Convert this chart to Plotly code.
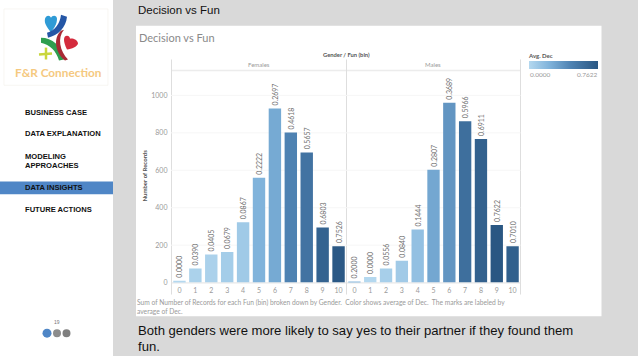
import plotly.graph_objects as go

fun_bins = list(range(11))
female_records = [10, 75, 150, 163, 323, 560, 930, 802, 696, 295, 195]
male_records = [5, 30, 75, 117, 284, 603, 961, 862, 767, 308, 195]
female_dec = [0.0000, 0.0390, 0.0405, 0.0679, 0.0867, 0.2222, 0.2697, 0.4618, 0.5657, 0.6803, 0.7526]
male_dec = [0.2000, 0.0000, 0.0556, 0.0840, 0.1444, 0.2807, 0.3689, 0.5966, 0.6911, 0.7622, 0.7010]
y_ticks = [0, 200, 400, 600, 800, 1000]
menu = [("BUSINESS CASE", 113), ("DATA EXPLANATION", 135), ("MODELING", 158), ("APPROACHES", 167),
        ("DATA INSIGHTS", 189), ("FUTURE ACTIONS", 211)]

W, H = 638, 359
X = lambda p: p / W
Y = lambda p: 1 - p / H
GREY = "#d9d9d9"
TICK = "#9a9a9a"
FONT = "Lato, 'Open Sans', sans-serif"
SANS = "'Liberation Sans', Arial, sans-serif"
scale = [[0, "#b4d8ef"], [0.3, "#7fb2da"], [0.6, "#4f83b3"], [1, "#2a5783"]]

def bars(vals, dec, xa, ya):
    return go.Bar(x=fun_bins, y=vals, xaxis=xa, yaxis=ya, width=0.78,
                  marker=dict(color=dec, coloraxis="coloraxis", line_width=0),
                  text=[f"{d:.4f}" for d in dec], textposition="outside", textangle=-90,
                  textfont=dict(family=FONT, size=7, color="#6f6f6f"),
                  cliponaxis=False, constraintext="none", showlegend=False, hoverinfo="skip")

fig = go.Figure([bars(female_records, female_dec, "x", "y"), bars(male_records, male_dec, "x2", "y2")])

def rect(x0, y0, x1, y1, color, layer="below", line=None):
    return dict(type="rect", xref="paper", yref="paper", x0=X(x0), x1=X(x1), y0=Y(y0), y1=Y(y1),
                fillcolor=color, line=dict(width=0.6 if line else 0, color=line or color), layer=layer)

def vline(x, y0, y1, color="#dedede", w=1):
    return dict(type="line", xref="paper", yref="paper", x0=X(x), x1=X(x), y0=Y(y0), y1=Y(y1),
                line=dict(color=color, width=w), layer="below")

def hline(y, x0, x1, color="#e8e8e8", w=1):
    return dict(type="line", xref="paper", yref="paper", x0=X(x0), x1=X(x1), y0=Y(y), y1=Y(y),
                line=dict(color=color, width=w), layer="below")

def circle(cx, cy, r, color):
    return dict(type="circle", xref="paper", yref="paper", x0=X(cx - r), x1=X(cx + r), y0=Y(cy - r), y1=Y(cy + r),
                fillcolor=color, line_width=0, layer="above")

def path(points, color, closed=True, w=0):
    parts = []
    for cmd, *c in points:
        parts.append(cmd + " " + " ".join(f"{X(c[i]):.5f},{Y(c[i + 1]):.5f}" for i in range(0, len(c), 2)))
    d = " ".join(parts) + (" Z" if closed else "")
    return dict(type="path", xref="paper", yref="paper", path=d, layer="above",
                fillcolor=color if closed else "rgba(0,0,0,0)",
                line=dict(width=w, color=color))

shapes = [
    rect(113, 0, 638, 359, GREY),
    rect(136, 26, 601.5, 319, "#ffffff"),
    rect(0, 183, 113, 196, "#4f86c6"),
    rect(4, 9, 108, 86, "#ffffff", line="#f3f0ea"),
    hline(71, 171, 520.5, "#ececec", 1.5),
    vline(171.5, 60, 297), vline(346.5, 60, 297), vline(520.5, 60, 297),
    hline(285.3, 171, 520.5, "#e2e2e2"),
]
for t in y_ticks[1:]:
    shapes.append(hline(285 - t * 0.1888, 171, 520.5, "#f6f6f6"))

# logo
shapes += [
    path([("M", 51, 33), ("C", 47, 27, 44, 24, 45, 19), ("C", 46, 15, 50, 15, 51, 18),
          ("C", 52, 15, 57, 15, 57, 19), ("C", 57, 25, 54, 28, 51, 33)], "#2f9bd6"),
    path([("M", 61, 15), ("L", 67, 17), ("C", 66, 28, 58, 36, 48, 38), ("L", 47, 33), ("C", 55, 31, 60, 24, 61, 15)], "#2456a6"),
    path([("M", 41, 38), ("C", 52, 38, 62, 46, 64, 60), ("L", 59, 61), ("C", 56, 51, 50, 45, 41, 43)], "#2e9e4f"),
    path([("M", 64, 30), ("C", 57, 38, 60, 52, 68, 60), ("L", 65, 61), ("C", 55, 53, 53, 38, 61, 31)], "#a82a35"),
    path([("M", 67, 50), ("C", 63, 42, 63, 36, 67, 36), ("C", 69, 36, 70, 38, 70, 39),
          ("C", 72, 38, 78, 40, 78, 44), ("C", 77, 47, 72, 49, 67, 50)], "#d42b3d"),
    path([("M", 46, 48), ("L", 46, 60)], "#c9d63c", closed=False, w=2.5),
    path([("M", 39, 55), ("L", 52, 54)], "#c9d63c", closed=False, w=2.5),
]
shapes += [circle(47, 336, 4.5, "#4f86c6"), circle(57, 336, 4, "#8c8c8c"), circle(66.5, 336, 4, "#7f7f7f")]

def note(text, x, y, size, color="#000", family=SANS, anchor="left", angle=0):
    return dict(text=text, xref="paper", yref="paper", x=X(x), y=Y(y), xanchor=anchor, yanchor="middle",
                showarrow=False, textangle=angle, font=dict(family=family, size=size, color=color),
                align=anchor if anchor != "middle" else "center", borderpad=0)

annotations = [
    note("Decision vs Fun", 137, 10, 11.5, "#111"),
    note("Both genders were more likely to say yes to their partner if they found them", 137, 333, 13.1, "#111"),
    note("fun.", 137, 349, 13.1, "#111"),
    note("Decision vs Fun", 137.5, 38, 11, "#8a8a8a", FONT),
    note("<b>Gender / Fun (bin)</b>", 346, 55, 5.8, "#555", FONT, "center"),
    note("Females", 258.5, 65.5, 6, "#9a9a9a", FONT, "center"),
    note("Males", 433, 65.5, 6, "#9a9a9a", FONT, "center"),
    note("<b>Number of Records</b>", 145, 177, 6, "#555", FONT, "center", -90),
    note("<b>Avg. Dec</b>", 527, 56, 6, "#555", FONT),
    note("0.0000", 529, 75, 6.5, TICK, FONT),
    note("0.7622", 598.5, 75, 6.5, TICK, FONT, "right"),
    note("Sum of Number of Records for each Fun (bin) broken down by Gender.  Color shows average of Dec.  The marks are labeled by", 136, 305, 6.7, "#9a9a9a", FONT),
    note("average of Dec.", 136, 314, 6.7, "#9a9a9a", FONT),
    note("19", 57, 324.5, 5, "#777", SANS, "center"),
    note("<b>F&R Connection</b>", 58, 73, 11.8, "#f5c97f", FONT, "center"),
]
for label, py in menu:
    annotations.append(note(f"<b>{label}</b>", 24, py, 7.6, "#111"))

xcommon = dict(range=[-0.5, 10.5], tickvals=fun_bins, ticks="", showgrid=False, zeroline=False,
               showline=False, tickfont=dict(family=FONT, size=7, color=TICK), tickangle=0, ticklabelstandoff=2)
ycommon = dict(range=[0, 1134], domain=[Y(285), Y(71)], showgrid=False, zeroline=False, showline=False)

fig.update_layout(
    width=W, height=H, margin=dict(l=0, r=0, t=0, b=0), autosize=False,
    paper_bgcolor="#ffffff", plot_bgcolor="rgba(0,0,0,0)", showlegend=False,
    barmode="overlay", shapes=shapes, annotations=annotations,
    xaxis=dict(domain=[X(171.5), X(346.5)], anchor="y", **xcommon),
    xaxis2=dict(domain=[X(346.5), X(520.5)], anchor="y2", **xcommon),
    yaxis=dict(anchor="x", tickvals=y_ticks, tickfont=dict(family=FONT, size=7, color=TICK), ticks="",
               ticklabelstandoff=3, **ycommon),
    yaxis2=dict(anchor="x2", showticklabels=False, **ycommon),
    coloraxis=dict(cmin=0, cmax=0.7622, colorscale=scale,
                   colorbar=dict(orientation="h", x=X(529), xanchor="left", y=Y(62), yanchor="top",
                                 thickness=7.5, thicknessmode="pixels", len=69, lenmode="pixels",
                                 xpad=0, ypad=0, outlinewidth=0, showticklabels=False, ticks="", title_text="")),
)

fig.write_html("out.html", config={"displayModeBar": False},
               post_script="document.body.style.margin='0';document.body.style.overflow='hidden';")
